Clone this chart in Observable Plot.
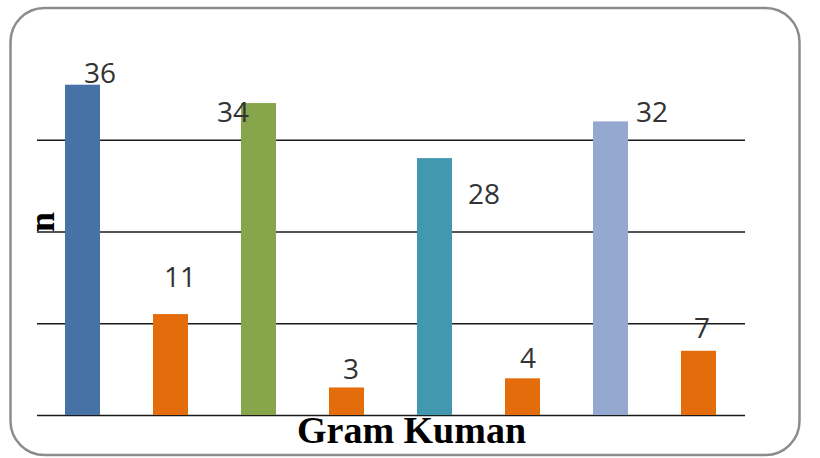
<!DOCTYPE html>
<html>
<head>
<meta charset="utf-8">
<script src="https://cdn.jsdelivr.net/npm/d3@7"></script>
<script src="https://cdn.jsdelivr.net/npm/@observablehq/plot@0.6"></script>
<style>
  html, body { margin: 0; padding: 0; background: #fff; }
</style>
</head>
<body>
<div id="chart"></div>
<script>
// Data
const categories = ["1", "2", "3", "4", "5", "6", "7", "8"];
const values = [36, 11, 34, 3, 28, 4, 32, 7];
const seriesKeys = ["S1", "S2", "S3", "S2", "S4", "S2", "S5", "S2"];
const keyDomain = ["S1", "S2", "S3", "S4", "S5"];
const barColors = ["#4672A6", "#E46C0A", "#87A54B", "#4198AF", "#95A9D0"];
const gridTicks = [0, 10, 20, 30];

const rows = categories.map((c, i) => ({cat: c, value: values[i], key: seriesKeys[i]}));

// label offsets (styling only)
const labelOffsets = [[17, -11], [9, -37], [-26, 9], [4, -18], [49, 36], [5, -20], [41, -9], [3, -22]];

const labelMarks = rows.map((r, i) =>
  Plot.text([r], {
    x: "cat", y: "value", text: d => String(d.value),
    dx: labelOffsets[i][0], dy: labelOffsets[i][1],
    fontSize: 28, fontFamily: "Open Sans", fill: "#333"
  })
);

const svg = Plot.plot({
  width: 820,
  height: 458,
  marginLeft: 37,
  marginRight: 75,
  marginTop: 48,
  marginBottom: 43,
  style: {background: "#fff", overflow: "visible"},
  x: {type: "band", domain: categories, paddingInner: 0.6, paddingOuter: 0.3, axis: null},
  y: {domain: [0, 40], axis: null},
  color: {type: "ordinal", domain: keyDomain, range: barColors},
  marks: [
    Plot.ruleY(gridTicks, {stroke: "#1a1a1a", strokeWidth: 1.6}),
    Plot.barY(rows, {x: "cat", y: "value", fill: "key"}),
    ...labelMarks,
    Plot.text(["Gram Kuman"], {frameAnchor: "bottom", dx: 20, dy: 27, fontSize: 38, fontWeight: "bold", fontFamily: "Liberation Serif", fill: "#000"}),
    Plot.text(["n"], {frameAnchor: "left", dx: 5, rotate: -90, fontSize: 36, fontWeight: "bold", fontFamily: "Liberation Serif", fill: "#000"})
  ]
});

d3.select(svg).append("rect")
  .attr("x", 10.5).attr("y", 8)
  .attr("width", 789).attr("height", 447)
  .attr("rx", 34).attr("ry", 34)
  .attr("fill", "none")
  .attr("stroke", "#8c8c8c")
  .attr("stroke-width", 2.5);

document.getElementById("chart").appendChild(svg);
</script>
</body>
</html>
